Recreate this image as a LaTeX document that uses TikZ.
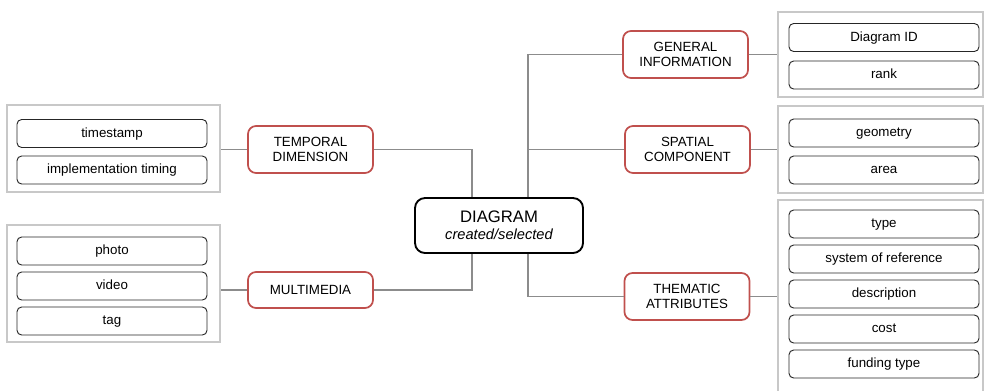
\documentclass[tikz,border=0pt]{standalone}
\usepackage{fontspec}
\setmainfont{Liberation Sans}
\usetikzlibrary{positioning}
\definecolor{hubred}{RGB}{192,80,77}
\definecolor{linkgray}{RGB}{140,140,140}
\definecolor{grpgray}{RGB}{200,200,200}

\begin{document}
\begin{tikzpicture}[
    x=0.75pt, y=-0.75pt,
    item/.style={
      draw=black!85, rounded corners=3.5pt, align=center, line width=0.7pt,
      minimum width=142.5pt, minimum height=21pt, inner sep=0pt,
      text height=7.3pt, text depth=2pt,
      font=\fontsize{10}{11.5}\selectfont
    },
    hub/.style={
      draw=hubred, rounded corners=6pt, align=center, line width=1.3pt,
      minimum width=93.75pt, minimum height=35.25pt, inner sep=0pt,
      font=\fontsize{10}{11.5}\selectfont
    },
    root/.style={
      draw=black, rounded corners=7.5pt, align=center, line width=1.4pt,
      minimum width=126pt, minimum height=41.25pt, inner sep=0pt
    },
    grp/.style={draw=grpgray, line width=1.5pt, inner sep=0pt},
    link/.style={draw=linkgray, line width=0.8pt}
  ]
    \useasboundingbox (0,0) rectangle (987,390);
    \clip (0,0) rectangle (987,390);

    % --- Gruppen ---
    \node[grp, minimum width=159.75pt, minimum height=65.25pt] (tempgrp) at (113.5,148.5) {};
    \node[grp, minimum width=159.75pt, minimum height=87.75pt] (mmgrp)   at (113.5,283.5) {};
    \node[grp, minimum width=153.75pt, minimum height=63.75pt] (gengrp)  at (880.5,54.5) {};
    \node[grp, minimum width=153.75pt, minimum height=65.25pt] (spagrp)  at (880.5,149.5) {};
    \node[grp, minimum width=153.75pt, minimum height=150pt]   (themgrp) at (880.5,300) {};

    % --- Zentrum ---
    \node[root] (diag) at (499,225.5)
      {{\fontsize{12.5}{14}\selectfont DIAGRAM}\\[1pt]{\fontsize{11}{13}\selectfont\itshape created/selected}};
    \coordinate (ltop) at ([xshift=-20.25pt]diag.north);
    \coordinate (lbot) at ([xshift=-20.25pt]diag.south);
    \coordinate (rtop) at ([xshift=21.75pt]diag.north);
    \coordinate (rbot) at ([xshift=21.75pt]diag.south);

    % --- links ---
    \node[hub] (temporal) at (310.5,149.5) {TEMPORAL\\DIMENSION};
    \node[hub, minimum height=27pt] (media) at (310.5,290) {MULTIMEDIA};
    \node[item] (tstamp) at (112,133.5) {timestamp};
    \node[item] (timing) at (112,170)   {implementation timing};
    \node[item] (photo)  at (112,251)   {photo};
    \node[item] (video)  at (112,286)   {video};
    \node[item] (tag)    at (112,321)   {tag};

    \draw[link] (temporal.east) -| (ltop);
    \draw[link] (media.east) -| (lbot);
    \draw[link] (temporal.west) -- (temporal.west -| tempgrp.east);
    \draw[link] (media.west) -- (media.west -| mmgrp.east);

    % --- rechts ---
    \node[hub] (general)  at (685.5,54.5)  {GENERAL\\INFORMATION};
    \node[hub] (spatial)  at (687.5,149.5) {SPATIAL\\COMPONENT};
    \node[hub] (thematic) at (687,296.5)   {THEMATIC\\ATTRIBUTES};
    \node[item] (diagid)  at (884,37.5) {Diagram ID};
    \node[item] (rank)    at (884,75)   {rank};
    \node[item] (geom)    at (884,133)  {geometry};
    \node[item] (area)    at (884,170)  {area};
    \node[item] (type)    at (884,224)  {type};
    \node[item] (sysref)  at (884,259)  {system of reference};
    \node[item] (descr)   at (884,294)  {description};
    \node[item] (cost)    at (884,329)  {cost};
    \node[item] (funding) at (884,364)  {funding type};

    \draw[link] (rtop) |- (general.west);
    \draw[link] (spatial.west) -- (spatial.west -| rtop);
    \draw[link] (rbot) |- (thematic.west);
    \draw[link] (general.east) -- (general.east -| gengrp.west);
    \draw[link] (spatial.east) -- (spatial.east -| spagrp.west);
    \draw[link] (thematic.east) -- (thematic.east -| themgrp.west);
  \end{tikzpicture}
\end{document}
